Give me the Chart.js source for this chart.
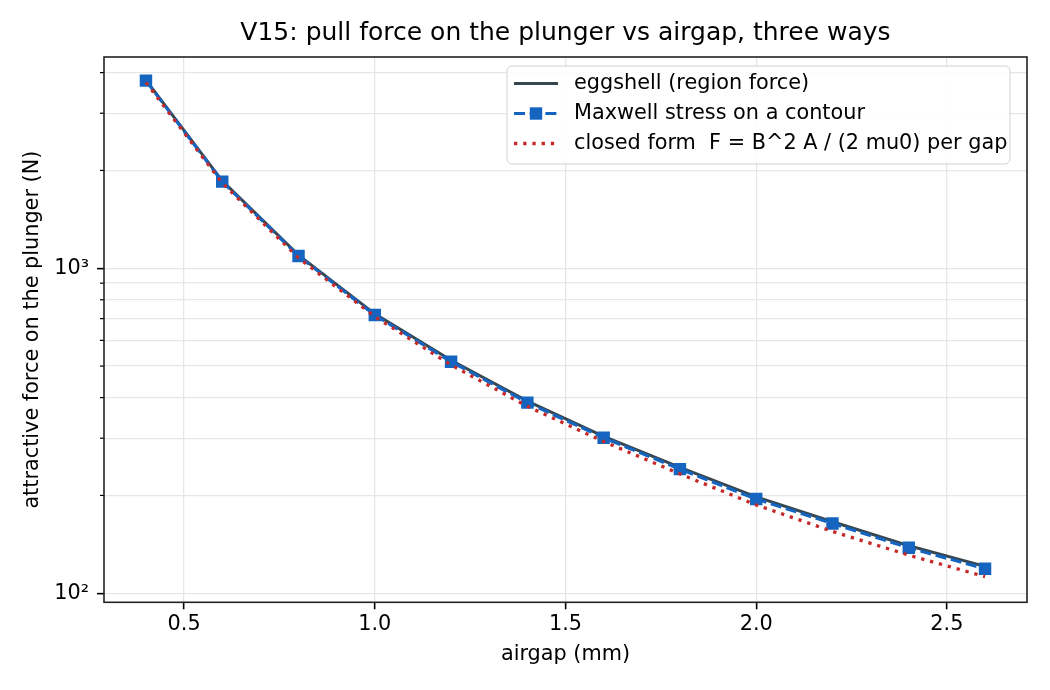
<!DOCTYPE html>
<html>
<head>
<meta charset="utf-8">
<title>V15: pull force vs airgap</title>
<script src="https://cdn.jsdelivr.net/npm/chart.js@4.4.0/dist/chart.umd.min.js"></script>
<style>
  html, body { margin: 0; padding: 0; background: #fff; }
  #wrap { width: 1050px; height: 690px; }
</style>
</head>
<body>
<div id="wrap"><canvas id="force" width="1050" height="690"></canvas></div>
<script>
// values
const gapMm       = [0.4, 0.6, 0.8, 1.0, 1.2, 1.4, 1.6, 1.8, 2.0, 2.2, 2.4, 2.6];
const eggshellN   = [3795, 1858, 1098, 724, 521, 390, 304, 244, 198, 166, 140, 121];
const maxwellN    = [3780, 1848, 1091, 718, 516, 386, 301, 241, 195, 164, 138, 119];
const closedFormN = [3730, 1830, 1076, 710, 504, 376, 293, 233, 187, 155, 131, 112.5];

const xTicks = [0.5, 1.0, 1.5, 2.0, 2.5];
const yMajorTicks = [100, 1000];
const yMinorTicks = [200, 300, 400, 500, 600, 700, 800, 900, 2000, 3000, 4000];
const yTickLabels = ['10²', '10³'];
const chartTitle = 'V15: pull force on the plunger vs airgap, three ways';

const FONT = 'DejaVu Sans';
Chart.defaults.font.family = FONT;
Chart.defaults.color = '#000';

const toPoints = vals => gapMm.map((g, i) => ({x: g, y: vals[i]}));
const isMajor = v => yMajorTicks.includes(v);

// title over the axes, frame, minor ticks and the in-axes legend
const frameAndLegend = {
  id: 'frameAndLegend',
  afterDraw(chart) {
    const ctx = chart.ctx;
    const a = chart.chartArea;
    const ys = chart.scales.y;
    ctx.save();

    ctx.fillStyle = '#000';
    ctx.font = '25px "' + FONT + '"';
    ctx.textAlign = 'center';
    ctx.textBaseline = 'middle';
    ctx.fillText(chartTitle, (a.left + a.right) / 2, 33);

    ctx.strokeStyle = '#000';
    ctx.lineWidth = 1.2;
    ctx.setLineDash([]);
    yMinorTicks.forEach(v => {
      const py = ys.getPixelForValue(v);
      if (py < a.top || py > a.bottom) return;
      ctx.beginPath();
      ctx.moveTo(a.left - 4, py);
      ctx.lineTo(a.left, py);
      ctx.stroke();
    });

    ctx.strokeStyle = '#222';
    ctx.lineWidth = 1.6;
    ctx.strokeRect(a.left, a.top, a.right - a.left, a.bottom - a.top);

    // legend box
    const bx = 507, by = 66, bw = 503, bh = 98, r = 5;
    ctx.beginPath();
    ctx.moveTo(bx + r, by);
    ctx.arcTo(bx + bw, by, bx + bw, by + bh, r);
    ctx.arcTo(bx + bw, by + bh, bx, by + bh, r);
    ctx.arcTo(bx, by + bh, bx, by, r);
    ctx.arcTo(bx, by, bx + bw, by, r);
    ctx.closePath();
    ctx.fillStyle = 'rgba(255,255,255,0.85)';
    ctx.fill();
    ctx.strokeStyle = '#d0d0d0';
    ctx.lineWidth = 1;
    ctx.stroke();

    const rows = [83.5, 113.5, 143.5];
    const x0 = 514, x1 = 558;
    chart.data.datasets.forEach((ds, i) => {
      const yy = rows[i];
      ctx.strokeStyle = ds.borderColor;
      ctx.lineWidth = ds.borderWidth;
      ctx.setLineDash(ds.borderDash || []);
      ctx.beginPath();
      ctx.moveTo(x0, yy);
      ctx.lineTo(x1, yy);
      ctx.stroke();
      ctx.setLineDash([]);
      if (ds.pointRadius > 0) {
        ctx.fillStyle = ds.pointBackgroundColor;
        ctx.fillRect((x0 + x1) / 2 - 6.2, yy - 6.2, 12.4, 12.4);
      }
      ctx.fillStyle = '#000';
      ctx.font = '20.8px "' + FONT + '"';
      ctx.textBaseline = 'middle';
      ctx.textAlign = 'left';
      ctx.fillText(ds.label, 574, yy);
    });
    ctx.restore();
  }
};

const forceCtx = document.getElementById('force').getContext('2d');
const forceChart = new Chart(forceCtx, {
  type: 'line',
  data: {
    datasets: [
      {
        label: 'eggshell (region force)',
        data: toPoints(eggshellN),
        borderColor: '#37474f',
        borderWidth: 3,
        pointRadius: 0,
        order: 3
      },
      {
        label: 'Maxwell stress on a contour',
        data: toPoints(maxwellN),
        borderColor: '#1565c0',
        borderWidth: 3.2,
        borderDash: [11, 4.7],
        pointStyle: 'rect',
        pointRadius: 8.8,
        pointBorderWidth: 0,
        pointBackgroundColor: '#1565c0',
        pointBorderColor: '#1565c0',
        order: 2
      },
      {
        label: 'closed form  F = B^2 A / (2 mu0) per gap',
        data: toPoints(closedFormN),
        borderColor: '#c62828',
        borderWidth: 3.3,
        borderDash: [3.3, 5.9],
        pointRadius: 0,
        order: 1
      }
    ]
  },
  options: {
    responsive: false,
    devicePixelRatio: 1,
    animation: false,
    layout: { padding: { left: 0, right: 23, top: 57, bottom: 0 } },
    plugins: {
      legend: { display: false },
      tooltip: { enabled: false },
      title: { display: false }
    },
    scales: {
      x: {
        type: 'linear',
        min: 0.29,
        max: 2.71,
        afterBuildTicks: s => { s.ticks = xTicks.map(v => ({value: v})); },
        afterFit: s => { s.height = 87.7; },
        ticks: {
          autoSkip: false,
          maxRotation: 0,
          padding: 3,
          font: { size: 20.8 },
          color: '#000',
          callback: v => Number(v).toFixed(1)
        },
        grid: {
          color: '#e6e6e6',
          lineWidth: 1.3,
          tickColor: '#000',
          tickWidth: 1.6,
          tickLength: 7
        },
        border: { display: false },
        title: {
          display: true,
          text: 'airgap (mm)',
          font: { size: 20.8, lineHeight: 1.2 },
          color: '#000',
          padding: { top: 0, bottom: 22.5 }
        }
      },
      y: {
        type: 'logarithmic',
        min: 93.8,
        max: 4468,
        afterBuildTicks: s => {
          s.ticks = yMajorTicks.concat(yMinorTicks)
            .sort((a, b) => a - b)
            .map(v => ({value: v, major: isMajor(v)}));
        },
        afterFit: s => { s.width = 104; },
        ticks: {
          autoSkip: false,
          padding: 8,
          font: { size: 20.8 },
          color: '#000',
          callback: v => {
            const k = yMajorTicks.indexOf(v);
            return k >= 0 ? yTickLabels[k] : '';
          }
        },
        grid: {
          color: '#e6e6e6',
          lineWidth: 1.3,
          tickColor: c => (c.tick && isMajor(c.tick.value)) ? '#000' : 'rgba(0,0,0,0)',
          tickWidth: 1.6,
          tickLength: 7
        },
        border: { display: false },
        title: {
          display: true,
          text: 'attractive force on the plunger (N)',
          font: { size: 20.8, lineHeight: 1.2 },
          color: '#000',
          padding: { top: 20.5, bottom: 0 }
        }
      }
    }
  },
  plugins: [frameAndLegend]
});
</script>
</body>
</html>
